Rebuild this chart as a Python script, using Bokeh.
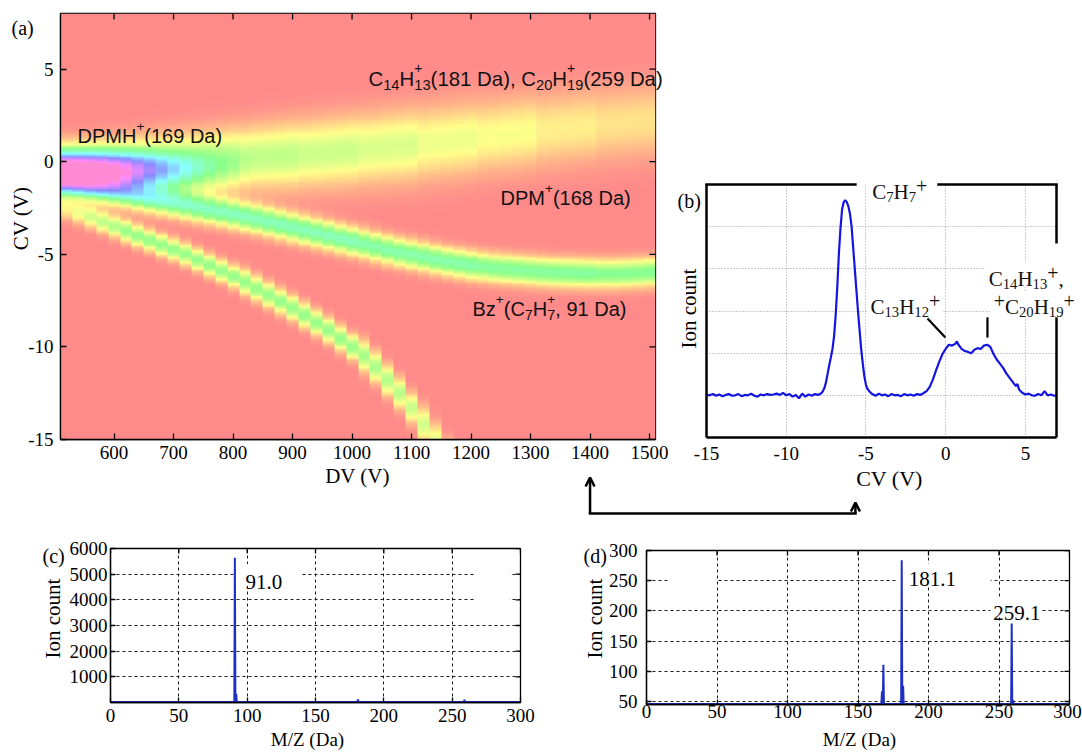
import colorsys

import numpy as np
from bokeh.embed import file_html
from bokeh.models import (Arrow, FixedTicker, Label, LinearColorMapper,
                          OpenHead, Range1d)
from bokeh.plotting import figure
from bokeh.resources import INLINE

SERIF = "Liberation Serif"
SANS = "Liberation Sans"
PAGE_W, PAGE_H = 1082, 752

# ---------------------------------------------------------------------------
# (a) dispersion map: intensity over dispersion voltage DV and compensation
#     voltage CV.  Each ion family is a ridge given, per DV step, by its CV
#     centre, peak intensity (0..1 of the colour scale) and CV width.
# ---------------------------------------------------------------------------
dv_steps = list(range(520, 1501, 20))          # 50 DV columns

# DPMH+ core (strong at low DV, fades out by ~820 V)
core_cv = -0.55
core_width = 0.7
core_amp = [0.90, 0.88, 0.85, 0.80, 0.74, 0.67, 0.58, 0.50, 0.42, 0.34,
            0.27, 0.20, 0.14, 0.09, 0.05, 0.02] + [0.0] * 34

# C14H13+ / C20H19+ branch (rises towards positive CV)
upper_cv = [-0.20, -0.18, -0.16, -0.14, -0.12, -0.10, -0.08, -0.05, -0.02, 0.00,
            0.03, 0.06, 0.09, 0.12, 0.15, 0.19, 0.23, 0.27, 0.31, 0.35,
            0.40, 0.45, 0.50, 0.55, 0.60, 0.66, 0.72, 0.78, 0.84, 0.90,
            0.97, 1.04, 1.11, 1.18, 1.25, 1.32, 1.39, 1.46, 1.53, 1.60,
            1.67, 1.74, 1.80, 1.86, 1.92, 1.98, 2.04, 2.10, 2.15, 2.20]
upper_amp = [0.30] * 15 + [0.28] * 5 + [0.26] * 5 + [0.24] * 5 + \
            [0.21] * 5 + [0.19] * 5 + [0.16] * 5 + [0.14] * 5
upper_width = [0.80, 0.82, 0.84, 0.86, 0.88, 0.90, 0.92, 0.94, 0.96, 0.98,
               1.00, 1.02, 1.04, 1.06, 1.08, 1.10, 1.12, 1.14, 1.16, 1.18,
               1.20, 1.21, 1.22, 1.23, 1.24, 1.25, 1.26, 1.27, 1.28, 1.29] + [1.30] * 20

# Bz+ (C7H7+) branch (bends down to about -6 V)
bz_cv = [-1.10, -1.22, -1.35, -1.48, -1.60, -1.72, -1.85, -1.98, -2.10, -2.22,
         -2.35, -2.48, -2.60, -2.72, -2.85, -2.98, -3.10, -3.25, -3.40, -3.55,
         -3.70, -3.85, -4.00, -4.15, -4.30, -4.45, -4.60, -4.75, -4.90, -5.02,
         -5.15, -5.28, -5.40, -5.50, -5.60, -5.68, -5.75, -5.80, -5.85, -5.90,
         -5.95, -5.98, -6.00, -6.02, -6.04, -6.05, -6.05, -6.03, -6.00, -5.97]
bz_amp = [0.30, 0.32, 0.34, 0.36, 0.38, 0.40, 0.42] + [0.44] * 18 + \
         [0.42] * 10 + [0.40] * 10 + [0.38] * 5
bz_width = [0.5] * 50

# steep branch that leaves the map at -15 V near DV 1140
steep_cv = [-2.60, -2.80, -3.00, -3.25, -3.50, -3.75, -4.00, -4.25, -4.50, -4.75,
            -5.00, -5.30, -5.60, -5.90, -6.20, -6.50, -6.85, -7.20, -7.55, -7.90,
            -8.30, -8.70, -9.10, -9.55, -10.0, -10.5, -11.1, -11.8, -12.5, -13.3,
            -14.2, -15.1, -16.0]
steep_amp = [0.15, 0.20, 0.25, 0.28, 0.30] + [0.34] * 20 + \
            [0.32, 0.31, 0.30, 0.29, 0.27, 0.25, 0.23, 0.20]
steep_width = [0.40] * 15 + [0.45] * 10 + [0.55] * 5 + [0.65] * 3

cv_rows = np.arange(-14.95, 8.0, 0.1)


def ridge(centres, amps, widths):
    field = np.zeros((len(cv_rows), len(dv_steps)))
    for j in range(len(centres)):
        field[:, j] = amps[j] * np.exp(-0.5 * ((cv_rows - centres[j]) / widths[j]) ** 2)
    return field


intensity = (ridge([core_cv] * 50, core_amp, [core_width] * 50)
             + ridge(upper_cv, upper_amp, upper_width)
             + ridge(bz_cv, bz_amp, bz_width)
             + ridge(steep_cv, steep_amp, steep_width))
intensity = np.clip(intensity, 0.0, 0.97)


def pastel_hsv(n=256):
    cols = []
    for i in range(n):
        r, g, b = colorsys.hsv_to_rgb(0.92 * i / (n - 1), 0.46, 1.0)
        cols.append("#%02x%02x%02x" % (round(r * 255), round(g * 255), round(b * 255)))
    return cols


# ---------------------------------------------------------------------------
# (b) CV scan at DV = 1400 V
# ---------------------------------------------------------------------------
scan_dv = 1400
cv_scan = [-15.0, -14.8, -14.6, -14.4, -14.2, -14.0, -13.8, -13.6, -13.4, -13.2,
           -13.0, -12.8, -12.6, -12.4, -12.2, -12.0, -11.8, -11.6, -11.4, -11.2,
           -11.0, -10.8, -10.6, -10.4, -10.2, -10.0, -9.8, -9.6, -9.4, -9.2,
           -9.0, -8.8, -8.6, -8.4, -8.2, -8.0, -7.8,
           -7.7, -7.6, -7.5, -7.4, -7.3, -7.2, -7.1, -7.0, -6.9, -6.8,
           -6.7, -6.6, -6.5, -6.4, -6.3, -6.2, -6.1, -6.0, -5.9, -5.8,
           -5.7, -5.6, -5.5, -5.4, -5.3, -5.2, -5.1, -5.0, -4.9, -4.8, -4.7,
           -4.6, -4.4, -4.2, -4.0, -3.8, -3.6, -3.4, -3.2, -3.0, -2.8,
           -2.6, -2.4, -2.2, -2.0, -1.8, -1.6, -1.4,
           -1.2, -1.0, -0.8, -0.6, -0.4, -0.2, 0.0, 0.2, 0.4, 0.6, 0.7, 0.8,
           1.0, 1.2, 1.4, 1.6, 1.8, 2.0, 2.2, 2.4, 2.6, 2.8, 3.0, 3.2, 3.4,
           3.6, 3.8, 4.0, 4.2, 4.4, 4.5, 4.6, 4.8,
           5.0, 5.2, 5.4, 5.6, 5.8, 6.0, 6.2, 6.4, 6.6, 6.8, 6.95]
scan_counts = [1.02, 1.00, 1.03, 0.99, 1.02, 0.98, 1.01, 1.03, 0.99, 1.00,
               1.03, 0.98, 1.01, 1.00, 1.04, 0.99, 0.97, 1.02, 1.00, 1.03,
               1.01, 1.02, 1.04, 1.01, 1.06, 1.00, 1.03, 0.97, 1.01, 0.93,
               1.04, 0.97, 1.02, 0.99, 1.03, 1.01, 1.05,
               1.10, 1.18, 1.32, 1.52, 1.72, 1.90, 2.10, 2.40, 2.90, 3.55,
               4.35, 4.95, 5.40, 5.58, 5.63, 5.58, 5.48, 5.30, 5.00, 4.50,
               4.00, 3.50, 3.00, 2.55, 2.10, 1.75, 1.45, 1.25, 1.15, 1.10, 1.06,
               1.03, 0.99, 1.04, 1.00, 1.02, 0.98, 1.03, 1.00, 1.01, 0.98,
               1.03, 1.00, 1.02, 0.99, 1.03, 1.01, 1.05,
               1.10, 1.20, 1.38, 1.60, 1.80, 1.98, 2.10, 2.20, 2.18, 2.22, 2.28, 2.20,
               2.10, 2.05, 2.03, 2.00, 2.08, 2.12, 2.10, 2.18, 2.20, 2.15, 1.98, 1.85, 1.75,
               1.65, 1.52, 1.42, 1.32, 1.22, 1.27, 1.14, 1.06,
               1.02, 1.04, 1.00, 0.99, 1.03, 1.00, 1.10, 1.00, 1.02, 0.99, 1.00]
b_arrow_cv = -5.66        # where the connector meets the CV axis of (b)

# ---------------------------------------------------------------------------
# (c), (d) mass spectra at the Bz+ and at the C14H13+/C20H19+ CV settings
# ---------------------------------------------------------------------------
c_mz = [0, 90.6, 91.0, 91.4, 91.6, 92.0, 92.4, 180.6, 181.0, 181.4, 258.6, 259.0, 259.4, 300]
c_counts = [15, 15, 5640, 15, 15, 340, 15, 15, 120, 15, 15, 110, 15, 15]

d_mz = [0, 166.6, 167.0, 167.4, 167.6, 168.0, 168.4, 180.6, 181.0, 181.4, 181.6, 182.0,
        182.4, 258.6, 259.0, 259.4, 259.6, 260.0, 260.4, 300]
d_counts = [46, 46, 67, 46, 46, 111, 46, 46, 284, 46, 46, 76, 46, 46, 179, 46, 46, 52, 46, 46]

a_xticks = [600, 700, 800, 900, 1000, 1100, 1200, 1300, 1400, 1500]
a_yticks = [-15, -10, -5, 0, 5]
b_xticks = [-15, -10, -5, 0, 5]
mz_ticks = [0, 50, 100, 150, 200, 250, 300]
c_yticks = [1000, 2000, 3000, 4000, 5000, 6000]
d_yticks = [50, 100, 150, 200, 250, 300]


# ---------------------------------------------------------------------------
# page geometry: every panel frame is placed on the page in pixels
# ---------------------------------------------------------------------------
class Frame:
    def __init__(self, left, top, right, bottom, xr, yr):
        self.left, self.top, self.right, self.bottom = left, top, right, bottom
        self.xr, self.yr = xr, yr

    def sx(self, x):
        return self.left + (x - self.xr[0]) * (self.right - self.left) / (self.xr[1] - self.xr[0])

    def sy(self, y):
        return self.bottom - (y - self.yr[0]) * (self.bottom - self.top) / (self.yr[1] - self.yr[0])

    def ppx(self):
        return (self.right - self.left) / (self.xr[1] - self.xr[0])

    def ppy(self):
        return (self.bottom - self.top) / (self.yr[1] - self.yr[0])


FA = Frame(60, 13, 655, 439, (510, 1510), (-15, 8))
FB = Frame(706, 184, 1056, 437, (-15, 6.95), (0, 6))
FC = Frame(110, 548, 520, 702, (0, 300), (0, 6000))
FD = Frame(646, 550, 1069, 704, (0, 300), (45, 300))


def panel(fr, cx, cy, cw, ch):
    p = figure(width=cw, height=ch, x_range=Range1d(*fr.xr), y_range=Range1d(*fr.yr),
               min_border_left=fr.left - cx, min_border_right=cx + cw - fr.right,
               min_border_top=fr.top - cy, min_border_bottom=cy + ch - fr.bottom,
               toolbar_location=None, output_backend="svg")
    p.styles = {"position": "absolute", "left": f"{cx}px", "top": f"{cy}px"}
    p.background_fill_color = "white"
    p.border_fill_color = "white"
    for ax in p.axis:
        ax.major_label_text_color = None
        ax.major_label_text_font_size = "10px"
        ax.axis_line_color = "black"
        ax.axis_line_width = 1.3
        ax.major_tick_line_color = "black"
        ax.major_tick_line_width = 1.3
        ax.minor_tick_line_color = None
        ax.major_tick_out = 0
        ax.axis_label = None
    return p


def mirror_ticks(p, fr, xt, yt, n):
    p.ray(x=xt, y=[fr.yr[1]] * len(xt), length=n, angle=-np.pi / 2, length_units="screen",
          line_color="black", line_width=1.3)
    p.ray(x=[fr.xr[1]] * len(yt), y=yt, length=n, angle=np.pi, length_units="screen",
          line_color="black", line_width=1.3)


# overlay canvas holding the texts and connector lines, in page pixels
ov = figure(width=PAGE_W, height=PAGE_H, x_range=Range1d(0, PAGE_W), y_range=Range1d(PAGE_H, 0),
            x_axis_type=None, y_axis_type=None, min_border=0, toolbar_location=None,
            output_backend="svg", background_fill_color=None, border_fill_color=None,
            outline_line_color=None)
ov.styles = {"position": "absolute", "left": "0px", "top": "0px"}
ov.grid.visible = False


def text(x, y, s, size, font=SERIF, align="center", baseline="middle", angle=0.0):
    ov.add_layout(Label(x=x, y=y, text=s, text_font=font, text_font_size=f"{size}px",
                        text_align=align, text_baseline=baseline, angle=angle,
                        text_color="black"))


def seg(x0, y0, x1, y1, w=2.5, cap="butt", head=False):
    end = OpenHead(size=9, line_width=w, line_color="black") if head else None
    ov.add_layout(Arrow(x_start=x0, y_start=y0, x_end=x1, y_end=y1, line_width=w,
                        line_color="black", line_cap=cap, end=end))


def tick_text(fr, xticks, x_mid, yticks, y_right, size=19, x_max=PAGE_W - 15):
    for t in xticks:
        text(min(fr.sx(t), x_max), x_mid, f"{t:g}", size)
    for t in yticks:
        text(y_right, fr.sy(t), f"{t:g}", size, align="right")


# chemical formulas are built from runs of normal, sub- and superscript text
ADV_SANS = {" ": 278, "(": 333, ")": 333, "+": 584, ",": 278, ".": 278, "B": 667,
            "C": 722, "D": 722, "H": 722, "M": 833, "P": 667, "a": 556, "z": 500}
ADV_SERIF = {" ": 250, "(": 333, ")": 333, "+": 564, ",": 250, ".": 250,
             "C": 667, "H": 722}


def N(t):
    return [(t, 1.0, 0.0)]


def SB(t):
    return [(t, 0.72, -0.30)]


def SP(t):
    return [(t, 0.68, 0.50)]


def SPB(sp, sb_):
    return [(sp, 0.68, 0.50), (sb_, 0.72, -0.30)]


def sb(t):
    return [(t, 0.70, -0.22)]


PLUS = [("+", 0.95, 0.28)]


def text_width(runs, size, table, digit):
    total = 0.0
    for col in runs:
        total += max(sum(table.get(ch, digit) for ch in t) * size * s / 1000.0
                     for t, s, _ in col)
    return total


def rich(x, y, runs, font, size, table, digit, color="#111111"):
    off = 0.0
    for col in runs:
        adv = 0.0
        for t, s, rise in col:
            fs = size * s
            ov.add_layout(Label(x=x, y=y, x_offset=off, y_offset=rise * size, text=t,
                                text_font=font, text_font_size=f"{fs:.1f}px",
                                text_baseline="alphabetic", text_align="left",
                                text_color=color))
            adv = max(adv, sum(table.get(ch, digit) for ch in t) * fs / 1000.0)
        off += adv


# ---------------------------------------------------------------------------
# panel (a)
# ---------------------------------------------------------------------------
pa = panel(FA, 0, 0, 672, 520)
pa.grid.visible = False
pa.outline_line_color = "black"
pa.outline_line_width = 1.3
mapper = LinearColorMapper(palette=pastel_hsv(), low=0.0, high=1.0)
pa.image(image=[np.repeat(intensity, 12, axis=1)], x=FA.xr[0], y=FA.yr[0],
         dw=FA.xr[1] - FA.xr[0], dh=FA.yr[1] - FA.yr[0], color_mapper=mapper)
pa.xaxis.ticker = FixedTicker(ticks=a_xticks)
pa.yaxis.ticker = FixedTicker(ticks=a_yticks)
pa.xaxis.major_tick_in = 6
pa.yaxis.major_tick_in = 6
mirror_ticks(pa, FA, a_xticks, a_yticks, 6)

tick_text(FA, a_xticks, 452, a_yticks, 53)
text(20, 218, "CV (V)", 21, angle=np.pi / 2)
text(357, 475, "DV (V)", 21)
text(11, 27, "(a)", 20, align="left", baseline="alphabetic")

rich(FA.sx(538.6), FA.sy(1.36), [N("DPMH"), SP("+"), N("(169 Da)")], SANS, 20, ADV_SANS, 556)
rich(FA.sx(1027.6), FA.sy(4.49), [N("C"), SB("14"), N("H"), SPB("+", "13"), N("(181 Da), C"),
                                  SB("20"), N("H"), SPB("+", "19"), N(" (259 Da)")],
     SANS, 20.4, ADV_SANS, 556)
rich(FA.sx(1249.5), FA.sy(-1.98), [N("DPM"), SP("+"), N("(168 Da)")], SANS, 20, ADV_SANS, 556)
rich(FA.sx(1202.4), FA.sy(-7.96), [N("Bz"), SP("+"), N("(C"), SB("7"), N("H"), SPB("+", "7"),
                                   N(", 91 Da)")], SANS, 20, ADV_SANS, 556)

# ---------------------------------------------------------------------------
# panel (b)
# ---------------------------------------------------------------------------
pb = panel(FB, 672, 0, 410, 520)
pb.outline_line_color = None
pb.xaxis.ticker = FixedTicker(ticks=b_xticks)
pb.yaxis.ticker = FixedTicker(ticks=[])
for ax in pb.axis:
    ax.major_tick_in = 0
    ax.axis_line_width = 2.5
pb.xgrid.ticker = FixedTicker(ticks=[-10, -5, 0, 5])
pb.ygrid.ticker = FixedTicker(ticks=[1, 2, 3, 4, 5])
pb.grid.grid_line_color = "#9c9c9c"
pb.grid.grid_line_dash = "1 2"
pb.grid.grid_line_width = 1

b_labels = [
    (-4.72, 3.09, [N("C"), sb("13"), N("H"), sb("12"), PLUS]),
    (2.70, 3.76, [N("C"), sb("14"), N("H"), sb("13"), PLUS, N(" ,")]),
    (3.01, 3.09, [PLUS, N("C"), sb("20"), N("H"), sb("19"), PLUS]),
]
# white backing behind the peak labels so the grid does not run through them
for lx, ly, runs in b_labels:
    w = text_width(runs, 21, ADV_SERIF, 500)
    pb.rect(x=[lx + (w / 2) / FB.ppx()], y=[ly + 4 / FB.ppy()], width=w + 6, height=24,
            width_units="screen", height_units="screen", fill_color="white", line_color=None)
pb.line(cv_scan, scan_counts, line_color="#1414e0", line_width=2.2)

for lx, ly, runs in b_labels:
    rich(FB.sx(lx), FB.sy(ly), runs, SERIF, 21, ADV_SERIF, 500)
rich(FB.sx(-4.61), FB.sy(5.82), [N("C"), sb("7"), N("H"), sb("7"), PLUS], SERIF, 21, ADV_SERIF, 500)

tick_text(FB, b_xticks, 453, [], 0)
text(889, 478, "CV (V)", 22)
text(688, 308, "Ion count", 21, angle=np.pi / 2)
text(677, 200, "(b)", 20, align="left", baseline="alphabetic")

# top and right frame lines of (b), broken where the labels sit
top_y, right_x = FB.sy(FB.yr[1]), FB.sx(FB.xr[1])
seg(FB.sx(FB.xr[0]), top_y, FB.sx(-5.66), top_y, cap="square")
seg(FB.sx(-0.45), top_y, right_x, top_y, cap="square")
seg(right_x, top_y, right_x, FB.sy(4.6))
seg(right_x, FB.sy(2.85), right_x, FB.sy(FB.yr[0]))
# leader lines to the two product peaks
seg(FB.sx(-1.14), FB.sy(2.82), FB.sx(-0.02), FB.sy(2.37), w=2.2)
seg(FB.sx(2.62), FB.sy(2.85), FB.sx(2.62), FB.sy(2.37), w=2.2)

# connector: the CV scan (b) was recorded at DV = scan_dv in (a)
link_y = 513
seg(FA.sx(scan_dv), link_y, FA.sx(scan_dv), 477, head=True)
seg(FA.sx(scan_dv), link_y, FB.sx(b_arrow_cv), link_y, cap="square")
seg(FB.sx(b_arrow_cv), link_y, FB.sx(b_arrow_cv), 502, head=True)


# ---------------------------------------------------------------------------
# panels (c) and (d)
# ---------------------------------------------------------------------------
def spectrum_panel(fr, cx, cy, cw, ch, yticks):
    p = panel(fr, cx, cy, cw, ch)
    p.outline_line_color = "black"
    p.outline_line_width = 1.3
    p.xaxis.ticker = FixedTicker(ticks=mz_ticks)
    p.yaxis.ticker = FixedTicker(ticks=yticks)
    p.xaxis.major_tick_in = 5
    p.yaxis.major_tick_in = 5
    mirror_ticks(p, fr, mz_ticks, yticks, 5)
    p.xgrid.ticker = FixedTicker(ticks=mz_ticks[1:-1])
    p.ygrid.ticker = FixedTicker(ticks=yticks[:-1])
    p.grid.grid_line_color = "#1a1a1a"
    p.grid.grid_line_dash = "3 3"
    p.grid.grid_line_width = 1
    return p


pc = spectrum_panel(FC, 0, 520, 580, 232, c_yticks)
pc.quad(left=[90.5, 266], right=[140, 292], bottom=[4550, 3300], top=[5400, 5700],
        fill_color="white", line_color=None)
pc.line(c_mz, c_counts, line_color="#1f2fc4", line_width=2)
tick_text(FC, mz_ticks, 715, c_yticks, 107)
text(FC.sx(98.8), FC.sy(4687), "91.0", 21, align="left", baseline="alphabetic")
text(42, 555, "(c)", 20, align="left", baseline="alphabetic")
text(52, 618, "Ion count", 21, angle=np.pi / 2)
text(307, 739, "M/Z (Da)", 19)

pd = spectrum_panel(FD, 580, 520, 502, 232, d_yticks)
pd.quad(left=[178, 244, 15], right=[244, 280, 49], bottom=[242, 190, 244],
        top=[278, 222, 256], fill_color="white", line_color=None)
pd.line(d_mz, d_counts, line_color="#1f2fc4", line_width=2)
tick_text(FD, mz_ticks, 711, d_yticks, 637)
text(FD.sx(186.0), FD.sy(253.1), "181.1", 21, align="left", baseline="alphabetic")
text(FD.sx(245.9), FD.sy(196.2), "259.1", 21, align="left", baseline="alphabetic")
text(583, 555, "(d)", 20, align="left", baseline="alphabetic")
text(594, 618, "Ion count", 21, angle=np.pi / 2)
text(859, 739, "M/Z (Da)", 19)

open("out.html", "w").write(file_html([pa, pb, pc, pd, ov], INLINE))
